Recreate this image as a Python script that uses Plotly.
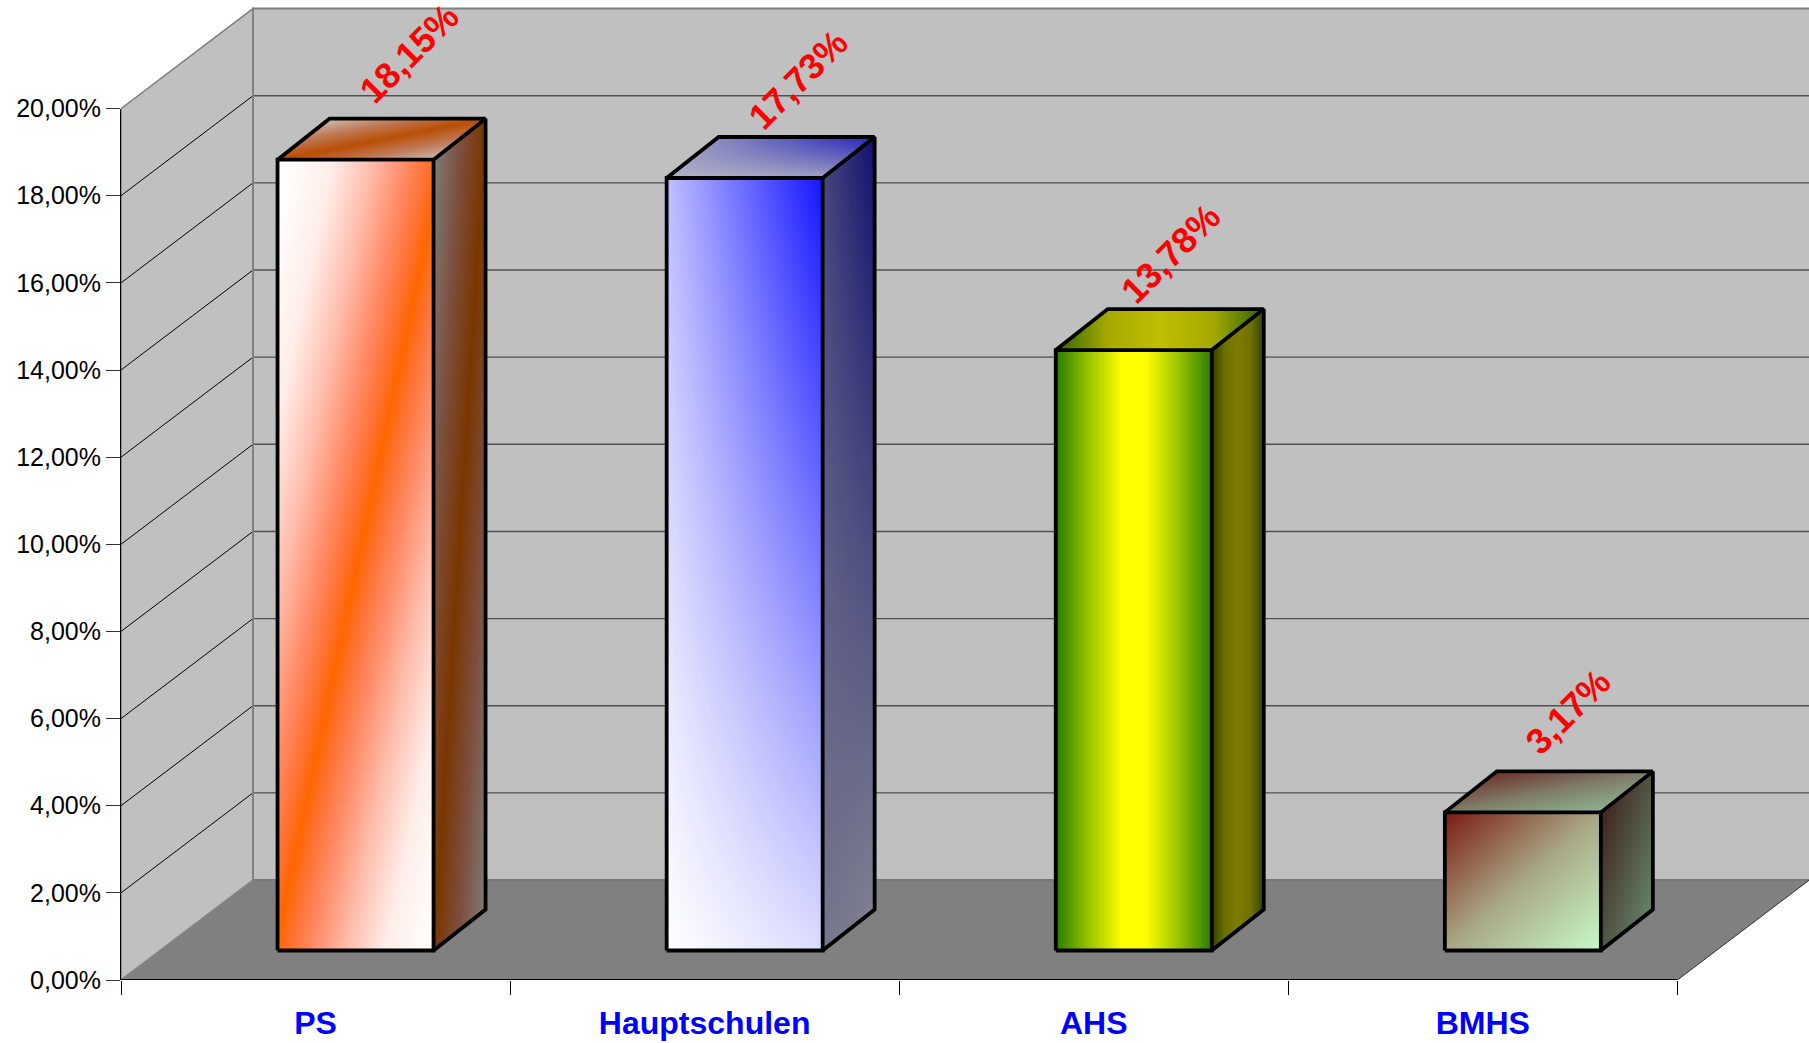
import numpy as np
import plotly.graph_objects as go

# ---- data ----
categories = ["PS", "Hauptschulen", "AHS", "BMHS"]
values = [18.15, 17.73, 13.78, 3.17]
value_labels = ["18,15%", "17,73%", "13,78%", "3,17%"]
y_ticks = [0, 2, 4, 6, 8, 10, 12, 14, 16, 18, 20]
y_tick_labels = ["0,00%", "2,00%", "4,00%", "6,00%", "8,00%", "10,00%",
                 "12,00%", "14,00%", "16,00%", "18,00%", "20,00%"]

# ---- page and scale geometry (pixels per axis unit) ----
W, H = 1809, 1043
LEFT, BASE = 121.0, 980.0
PX_X, PX_Y = 389.1, 43.57
X_MAX = (W - LEFT) / PX_X
Y_MAX = BASE / PX_Y
N = len(categories)

# oblique depth of the whole chart and of one bar, in axis units
DX, DY = 132 / PX_X, 100 / PX_Y
FX, FY = 40 / PX_X, 29.5 / PX_Y
BX, BY = 52 / PX_X, 41 / PX_Y
BAR_W = 156 / PX_X

# small placement corrections of the rotated labels, in axis units
label_dx = [0.015, 0.015, -0.027, -0.006]
label_dy = [0.17, -0.01, -0.066, 0.04]


def clamp(t):
    return np.clip(t, 0, 1)


def bilinear(a, b, c, d):
    # corners: (s0,r0) (s1,r0) (s0,r1) (s1,r1)
    return lambda s, r: clamp(a * (1 - s) * (1 - r) + b * s * (1 - r) + c * (1 - s) * r + d * s * r)


styles = [
    dict(  # PS
        front=(lambda s, r: clamp(np.abs(s - (-0.02 + 1.08 * r))),
               [[0, "#FF6600"], [0.1, "#FF7234"], [0.25, "#FF8E6A"], [0.45, "#FFBBAA"],
                [0.7, "#FFEDE8"], [1, "#FFFFFF"]]),
        side=(lambda s, r: clamp(np.abs(s - r)),
              [[0, "#7A3600"], [0.5, "#7C5040"], [1, "#807C78"]]),
        top=(lambda s, r: clamp(np.abs(s - r)),
             [[0, "#BA4E06"], [0.5, "#C07A58"], [1, "#CDBDB4"]]),
    ),
    dict(  # Hauptschulen
        front=(bilinear(0, 0.15, 0.27, 1), [[0, "#FFFFFF"], [1, "#1414FF"]]),
        side=(bilinear(0.1, 0, 0.5, 1), [[0, "#808090"], [1, "#10106E"]]),
        top=(bilinear(0, 0.12, 0.3, 1), [[0, "#B4B4C4"], [1, "#2222B8"]]),
    ),
    dict(  # AHS
        front=(lambda s, r: clamp(np.abs(2 * s - 1)),
               [[0, "#FFFF00"], [0.15, "#FFFF00"], [0.55, "#A0C800"], [1, "#2A7C00"]]),
        side=(lambda s, r: clamp(np.abs(2 * s - 1)),
              [[0, "#7D7D00"], [0.5, "#6E7000"], [1, "#2B4000"]]),
        top=(lambda s, r: clamp(np.abs(2 * (s * BAR_W + r * BX) / (BAR_W + BX) - 1)),
             [[0, "#BFBF00"], [0.5, "#A6AA00"], [1, "#2F6400"]]),
    ),
    dict(  # BMHS
        front=(lambda s, r: clamp((s + 1 - r) / 2),
               [[0, "#7C1A14"], [0.5, "#A8A884"], [1, "#C8FAC8"]]),
        side=(lambda s, r: clamp((s + 1 - r) / 2), [[0, "#3E241E"], [1, "#668468"]]),
        top=(lambda s, r: clamp((s + 1 - r) / 2), [[0, "#6E3028"], [0.5, "#7E7C68"], [1, "#8FB393"]]),
    ),
]


def face(origin, a, b, fn, scale, cell=(1.0, 1.5)):
    """Heatmap covering the parallelogram origin + s*a + r*b, in axis units."""
    ox, oy = origin
    xs = [ox, ox + a[0], ox + b[0], ox + a[0] + b[0]]
    ys = [oy, oy + a[1], oy + b[1], oy + a[1] + b[1]]
    dx, dy = cell[0] / PX_X, cell[1] / PX_Y
    nx = int(np.ceil((max(xs) - min(xs)) / dx))
    ny = int(np.ceil((max(ys) - min(ys)) / dy))
    gx = min(xs) + (np.arange(nx) + 0.5) * dx
    gy = min(ys) + (np.arange(ny) + 0.5) * dy
    X, Y = np.meshgrid(gx, gy)
    det = a[0] * b[1] - a[1] * b[0]
    s = ((X - ox) * b[1] - (Y - oy) * b[0]) / det
    r = ((Y - oy) * a[0] - (X - ox) * a[1]) / det
    z = fn(clamp(s), clamp(r)).astype(float)
    z[(s < 0) | (s > 1) | (r < 0) | (r > 1)] = np.nan
    return go.Heatmap(z=np.round(z, 3).astype("float32"), x0=gx[0], dx=dx, y0=gy[0], dy=dy,
                      colorscale=scale, zmin=0, zmax=1, showscale=False,
                      hoverinfo="skip", zsmooth=False)


fig = go.Figure()

# ---- walls, floor and their gridlines (under every trace) ----
def poly(points):
    return "M " + " L ".join(f"{x:.5f},{y:.5f}" for x, y in points) + " Z"


WALL, FLOOR, EDGE = "#C0C0C0", "#808080", "#808080"
top = y_ticks[-1]
shapes = [
    dict(type="path", path=poly([(0, 0), (DX, DY), (DX, top + DY), (0, top)]),
         fillcolor=WALL, line=dict(color=EDGE, width=1.5), layer="below", xref="x", yref="y"),
    dict(type="path", path=poly([(DX, DY), (N + DX + 1, DY), (N + DX + 1, top + DY), (DX, top + DY)]),
         fillcolor=WALL, line=dict(color=EDGE, width=2), layer="below", xref="x", yref="y"),
    dict(type="path", path=poly([(0, 0), (N, 0), (N + DX, DY), (DX, DY)]),
         fillcolor=FLOOR, line=dict(width=0), layer="below", xref="x", yref="y"),
]
for v in y_ticks[1:-1]:
    shapes.append(dict(type="line", x0=DX, x1=N + DX + 1, y0=v + DY, y1=v + DY, xref="x", yref="y",
                       line=dict(color="#505050", width=1.4), layer="below"))
    shapes.append(dict(type="line", x0=0, x1=DX, y0=v, y1=v + DY, xref="x", yref="y",
                       line=dict(color="#000000", width=1), layer="below"))
shapes.append(dict(type="line", x0=DX, x1=N + DX + 1, y0=DY, y1=DY, xref="x", yref="y",
                   line=dict(color="#787878", width=2), layer="below"))
shapes.append(dict(type="line", x0=0, x1=DX, y0=0, y1=DY, xref="x", yref="y",
                   line=dict(color="#888888", width=1), layer="below"))
shapes.append(dict(type="line", x0=DX, x1=DX, y0=DY, y1=top + DY, xref="x", yref="y",
                   line=dict(color="#808080", width=2), layer="below"))
shapes.append(dict(type="line", x0=N, x1=N + DX, y0=0, y1=DY, xref="x", yref="y",
                   line=dict(color="#303030", width=1), layer="below"))

# ---- bar faces ----
for i, v in enumerate(values):
    st = styles[i]
    x0 = i + 0.5 + FX - BAR_W / 2
    x1 = x0 + BAR_W
    fig.add_trace(face((x0, FY), (BAR_W, 0), (0, v), *st["front"], cell=(1.0, 2.0)))
    fig.add_trace(face((x1, FY), (BX, BY), (0, v), *st["side"], cell=(1.0, 2.0)))
    fig.add_trace(face((x0, v + FY), (BAR_W, 0), (BX, BY), *st["top"], cell=(1.0, 1.0)))

# ---- bar outlines ----
OUT = dict(color="#000000", width=3.8)
for i, v in enumerate(values):
    x0 = i + 0.5 + FX - BAR_W / 2
    x1 = x0 + BAR_W
    yb, yt = FY, v + FY
    outline_x = [x0, x1, x1, x0, x0, None, x1, x1 + BX, x1 + BX, x1, None,
                 x0, x0 + BX, x1 + BX]
    outline_y = [yb, yb, yt, yt, yb, None, yb, yb + BY, yt + BY, yt, None,
                 yt, yt + BY, yt + BY]
    fig.add_trace(go.Scatter(x=outline_x, y=outline_y, mode="lines", line=OUT,
                             hoverinfo="skip", showlegend=False))

# ---- baseline, ending at the last category tick ----
fig.add_trace(go.Scatter(x=[0, N], y=[0, 0], mode="lines", line=dict(color="#000000", width=2),
                         hoverinfo="skip", showlegend=False))

# ---- value axis trace: carries the labelled left axis ----
fig.add_trace(go.Scatter(x=[i + 0.5 for i in range(N)], y=values, yaxis="y2", mode="markers",
                         marker=dict(opacity=0), hoverinfo="skip", showlegend=False))

# ---- rotated data labels ----
annotations = [
    dict(x=i + 0.725 + label_dx[i], y=v + 2.95 + label_dy[i], xref="x", yref="y", text=lab,
         textangle=-45, showarrow=False,
         font=dict(family="Liberation Sans", size=36, color="#FF0000", weight="bold"))
    for i, (v, lab) in enumerate(zip(values, value_labels))
]

fig.update_layout(
    width=W, height=H,
    margin=dict(l=LEFT, r=0, t=0, b=H - BASE, pad=0, autoexpand=False),
    paper_bgcolor="#FFFFFF", plot_bgcolor="rgba(0,0,0,0)",
    showlegend=False, shapes=shapes, annotations=annotations,
    xaxis=dict(
        range=[0, X_MAX], showgrid=False, zeroline=False, showline=False, fixedrange=True,
        tickmode="array", tickvals=[i + 0.5 for i in range(N)], ticktext=categories,
        ticks="", ticklen=0, ticklabelstandoff=21,
        tickfont=dict(family="Liberation Sans", size=32, color="#0000FF", weight="bold"),
        minor=dict(ticks="outside", ticklen=14, tickwidth=1, tickcolor="#000000",
                   tickmode="array", tickvals=list(range(N + 1))),
    ),
    yaxis=dict(range=[0, Y_MAX], domain=[0, 1], visible=False, fixedrange=True),
    yaxis2=dict(
        range=[0, 20], domain=[0, (20 * PX_Y) / BASE], anchor="x", fixedrange=True,
        showgrid=False, zeroline=False, showline=True, linecolor="#000000", linewidth=1,
        tickmode="array", tickvals=y_ticks, ticktext=y_tick_labels,
        ticks="outside", ticklen=14, tickwidth=1, tickcolor="#333333",
        tickfont=dict(family="Liberation Sans", size=25, color="#000000"),
    ),
)

fig.write_html("out.html", config=dict(displayModeBar=False),
               post_script="document.body.style.margin='0';document.body.style.overflow='hidden';")
